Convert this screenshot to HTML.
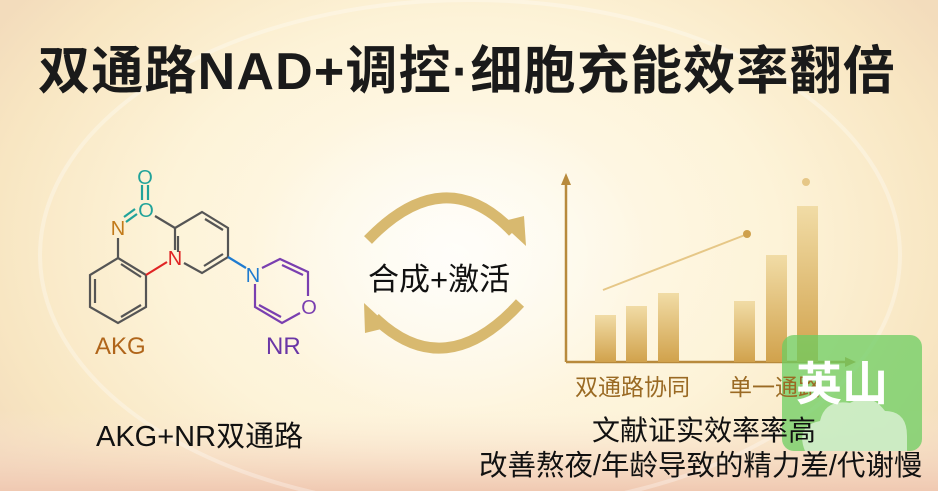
<!DOCTYPE html>
<html><head><meta charset="utf-8"><style>
html,body{margin:0;padding:0}
body{width:938px;height:491px;overflow:hidden;position:relative;font-family:"Liberation Sans","Noto Sans CJK SC",sans-serif;
background:radial-gradient(ellipse 560px 400px at 470px 240px,#fffbef 0%,#fdf3d8 55%,#f8e6c2 85%,#f3dcbc 100%);}
.t{position:absolute;white-space:nowrap}
</style></head><body>
<svg width="938" height="491" style="position:absolute;left:0;top:0">
<defs>
<linearGradient id="bar" x1="0" y1="0" x2="0" y2="1"><stop offset="0" stop-color="#f1dca6"/><stop offset="1" stop-color="#d1a24c"/></linearGradient>
<linearGradient id="bot" x1="0" y1="0" x2="0" y2="1"><stop offset="0" stop-color="#fbe9d8" stop-opacity="0"/><stop offset="1" stop-color="#f0c9b2"/></linearGradient>
<radialGradient id="glow" cx="0.5" cy="0.5" r="0.5"><stop offset="0" stop-color="#fff" stop-opacity="0.7"/><stop offset="1" stop-color="#fff" stop-opacity="0"/></radialGradient>
</defs>
<rect x="0" y="410" width="938" height="81" fill="url(#bot)"/>
<ellipse cx="470" cy="255" rx="430" ry="255" fill="none" stroke="#fff" stroke-opacity="0.3" stroke-width="4"/>
<ellipse cx="450" cy="260" rx="200" ry="160" fill="url(#glow)"/>
<g stroke="#555" stroke-width="2.2" fill="none">
<polygon points="118,258 146,275 146,307 118,323 90,307 90,275"/>
<line x1="95" y1="279" x2="95" y2="303"/><line x1="121" y1="317" x2="141" y2="305"/><line x1="121" y1="264" x2="141" y2="277"/>
<line x1="118" y1="238" x2="118" y2="258"/>
<polyline points="175,228 202,212 228,228 228,257 202,273 184,263"/>
<line x1="178" y1="236" x2="178" y2="252"/>
<line x1="205" y1="219" x2="223" y2="230"/>
<line x1="223" y1="254" x2="204" y2="266"/>
<line x1="175" y1="228" x2="175" y2="250"/>
</g>
<line x1="146" y1="275" x2="167" y2="262" stroke="#e02424" stroke-width="2.2"/>
<line x1="228" y1="257" x2="246" y2="268" stroke="#1f7bd0" stroke-width="2.2"/>
<line x1="155" y1="216" x2="175" y2="228" stroke="#555" stroke-width="2.2"/>
<g stroke="#7a3fb0" stroke-width="2.2" fill="none">
<polyline points="262,268 280,259 308,272 308,296"/><line x1="282" y1="265" x2="303" y2="275"/>
<polyline points="255,284 255,307 282,323 300,313"/><line x1="259" y1="305" x2="281" y2="317"/>
</g>
<g stroke="#21a39a" stroke-width="2.2"><line x1="142" y1="185" x2="142" y2="200"/><line x1="148" y1="185" x2="148" y2="200"/><line x1="126" y1="222" x2="137" y2="214"/><line x1="124" y1="217" x2="135" y2="209"/></g>
<g font-family="Liberation Sans" font-size="20" text-anchor="middle">
<text x="145" y="184" fill="#21a39a">O</text>
<text x="146" y="217" fill="#21a39a">O</text>
<text x="118" y="235" fill="#c27a1a">N</text>
<text x="175" y="265" fill="#e02424">N</text>
<text x="253" y="282" fill="#1f7bd0">N</text>
<text x="309" y="314" fill="#7a3fb0">O</text>
</g>
<g fill="none" stroke="#d8b96f" stroke-width="11">
<path d="M368,240 Q445,160 513,232"/>
<path d="M520,303 Q445,385 375,318"/>
</g>
<polygon points="500,222 524,216 526,246" fill="#d8b96f"/>
<polygon points="390,327 365,333 364,303" fill="#d8b96f"/>
<g stroke="#b88a3c" stroke-width="2.5" fill="#b88a3c">
<line x1="566" y1="362" x2="566" y2="180"/><polygon points="561,185 566,173 571,185" stroke="none"/>
<line x1="566" y1="362" x2="850" y2="362"/><polygon points="845,357 856,362 845,367" stroke="none"/>
</g>
<rect x="595" y="315" width="21" height="47" fill="url(#bar)"/>
<rect x="626" y="306" width="21" height="56" fill="url(#bar)"/>
<rect x="658" y="293" width="21" height="69" fill="url(#bar)"/>
<rect x="734" y="301" width="21" height="61" fill="url(#bar)"/>
<rect x="766" y="255" width="21" height="107" fill="url(#bar)"/>
<rect x="797" y="206" width="21" height="156" fill="url(#bar)"/>
<line x1="603" y1="290" x2="745" y2="235" stroke="#e6c787" stroke-width="2"/>
<circle cx="747" cy="234" r="4" fill="#cfa14d"/>
<circle cx="806" cy="182" r="4" fill="#e6c787"/>
<rect x="782" y="335" width="140" height="116" rx="12" fill="#6cce62" fill-opacity="0.75"/>
<path d="M805,451 q-10,-25 15,-30 q5,-22 30,-18 q20,-12 35,8 q22,0 22,25 v15 z" fill="#fff" fill-opacity="0.55"/>
</svg>
<div class="t" style="left:38px;top:29px;font-size:52px;font-weight:bold;color:#1a1a1a;letter-spacing:1.2px">双通路NAD+调控·细胞充能效率翻倍</div>
<div class="t" style="left:95px;top:333px;font-size:24px;color:#b0651a">AKG</div>
<div class="t" style="left:266px;top:333px;font-size:24px;color:#6a36a6">NR</div>
<div class="t" style="left:368px;top:254px;font-size:31px;color:#111">合成+激活</div>
<div class="t" style="left:96px;top:413px;font-size:29px;color:#111">AKG+NR双通路</div>
<div class="t" style="left:575px;top:368px;font-size:23px;color:#9a6a24">双通路协同</div>
<div class="t" style="left:729px;top:368px;font-size:23px;color:#9a6a24">单一通路</div>
<div class="t" style="left:592px;top:409px;font-size:28px;color:#111">文献证实效率率高</div>
<div class="t" style="left:479px;top:443px;font-size:28.5px;color:#111">改善熬夜/年龄导致的精力差/代谢慢</div>
<div class="t" style="left:796px;top:348px;font-size:46px;font-weight:bold;color:#fff">英山</div>
</body></html>
